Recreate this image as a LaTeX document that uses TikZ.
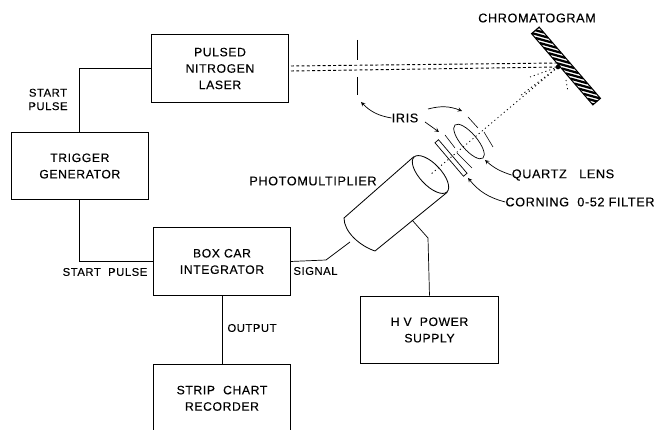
\documentclass[tikz,border=0pt]{standalone}
\usepackage{fontspec}
\setmainfont[LetterSpace=5,FakeBold=0.25]{Liberation Sans}
\usetikzlibrary{positioning, shapes, arrows.meta}
\tikzstyle{box} = [rectangle, draw, line width=0.7pt, text width=3.6cm, text centered, minimum width=4.12cm, minimum height=2.03cm, font=\fontsize{10.4}{14}\selectfont, inner sep=0pt]
\tikzstyle{wire} = [line width=0.6pt]
\tikzstyle{arrow} = [line width=0.6pt,->,>=stealth]
\begin{document}
\begin{tikzpicture}[
    x=0.03cm, y=-0.03cm,
    tag/.style={font=\fontsize{9.6}{11.5}\selectfont, align=center, inner sep=0pt},
    bigtag/.style={font=\fontsize{10.8}{13}\selectfont, align=center, inner sep=0pt},
    beam/.style={line width=0.8pt, dash pattern=on 2.5pt off 2pt},
    ray/.style={line width=0.7pt, dash pattern=on 1pt off 2.5pt},
    slit/.style={line width=0.5pt}
]
    \useasboundingbox (0,0) rectangle (661,430);

    % Boxes
    \node[box] (laser) at (220,68.5) {PULSED\\NITROGEN\\LASER};
    \node[box, below left=0.87cm and 0.06cm of laser] (trigger) {TRIGGER\\GENERATOR};
    \node[box, below right=0.81cm and 0.12cm of trigger] (boxcar) {BOX CAR\\INTEGRATOR};
    \node[box, below=2.05cm of boxcar] (recorder) {STRIP\ \ CHART\\RECORDER};
    \node[box, below right=0cm and 2.08cm of boxcar] (supply) {H\ V\ \ POWER\\SUPPLY};

    % Chromatogram plate
    \node[rectangle, draw, line width=0.9pt, rotate=-49.3, minimum width=2.82cm, minimum height=0.3cm, inner sep=0pt] (plate) at (566,66) {};
    \begin{scope}[shift={(plate.center)}, rotate=-49.3]
        \clip (-47,-5) rectangle (47,5);
        \foreach \t in {-54,-47.3,...,54}
            \draw[line width=1.9pt] (\t-7.5,5) -- (\t+7.5,-5);
    \end{scope}

    % Lens, filter and photomultiplier
    \node[ellipse, draw, line width=0.6pt, rotate=-49.7, minimum width=1.3cm, minimum height=0.48cm, inner sep=0pt] (lens) at (469,141.5) {};
    \node[rectangle, draw, line width=0.6pt, rotate=-49.6, minimum width=1.32cm, minimum height=0.14cm, inner sep=0pt] (filter) at (451,158) {};
    \node[ellipse, draw, line width=0.7pt, rotate=-46.7, minimum width=1.44cm, minimum height=0.64cm, inner sep=0pt] (face) at (430.5,174.5) {};
    \draw[line width=0.7pt] (face.west) -- (344,218) .. controls (344,232) and (360,246) .. (375,251) -- (face.east);

    % Labels
    \node[bigtag] (chrom) at (537,18) {CHROMATOGRAM};
    \node[bigtag] (iris) at (405,118) {IRIS};
    \node[bigtag] (quartz) at (563,175) {QUARTZ\ \ \ LENS};
    \node[bigtag] (corning) at (580,202) {CORNING\ \ 0-52\ FILTER};
    \node[bigtag] (photo) at (313,181) {PHOTOMULTIPLIER};
    \node[tag] (signal) at (315.5,271) {SIGNAL};
    \node[tag] (start) at (105,272) {START\ \ PULSE};
    \node[tag] (startb) at (48,99.5) {START\\PULSE};
    \node[tag] (output) at (252,328) {OUTPUT};

    % Free ends
    \coordinate (beamA) at (291,66);
    \coordinate (beamB) at (291,71);
    \coordinate (spotA) at (558,63);
    \coordinate (spotB) at (558,67);
    \coordinate (fanA) at (530,77);
    \coordinate (fanB) at (520,96);
    \coordinate (glowA) at (566,80);
    \coordinate (glowB) at (568,92);
    \coordinate (back) at (350,242);
    \coordinate (side) at (412,220);
    \coordinate (bendA) at (326,260);
    \coordinate (bendB) at (428,238);

    % Wires
    \draw[wire] (laser.west) -| (trigger.north);
    \draw[wire] (trigger.south) |- (boxcar.west);
    \draw[wire] (boxcar.south) -- (recorder.north);
    \draw[wire] (boxcar.east) -- (bendA) -- (back);
    \draw[wire] (side) -- (bendB) -- (supply.north);

    % Light path
    \draw[beam] (beamA) -- (spotA);
    \draw[beam] (beamB) -- (spotB);
    \draw[ray] (spotB) -- (face.center);
    \draw[ray] (spotB) -- (fanA);
    \draw[ray] (spotB) -- (fanB);
    \draw[ray] (glowA) -- (glowB);
    \fill (spotB) circle (0.07cm);

    % Iris blades
    \draw[slit] (357,40) -- (357,60);
    \draw[slit] (357,77) -- (357,95);
    \draw[slit] (468,117) -- (478,128);
    \draw[slit] (484,132) -- (493,147);
    \draw[slit] (445,135) -- (455,148);
    \draw[slit] (457,153) -- (472,168);

    % Pointers
    \coordinate (irisA) at (361,102);
    \coordinate (irisB) at (428,109);
    \coordinate (irisC) at (462,111);
    \coordinate (irisD) at (425,122);
    \coordinate (irisE) at (439,132);
    \coordinate (lensE) at (485,160);
    \coordinate (filtE) at (468,178);
    \draw[arrow] (iris.west) to[bend left=18] (irisA);
    \draw[arrow] (irisB) to[bend left=18] (irisC);
    \draw[arrow] (irisD) -- (irisE);
    \draw[arrow] (quartz.west) to[bend left=12] (lensE);
    \draw[arrow] (corning.west) to[bend left=18] (filtE);
\end{tikzpicture}
\end{document}
